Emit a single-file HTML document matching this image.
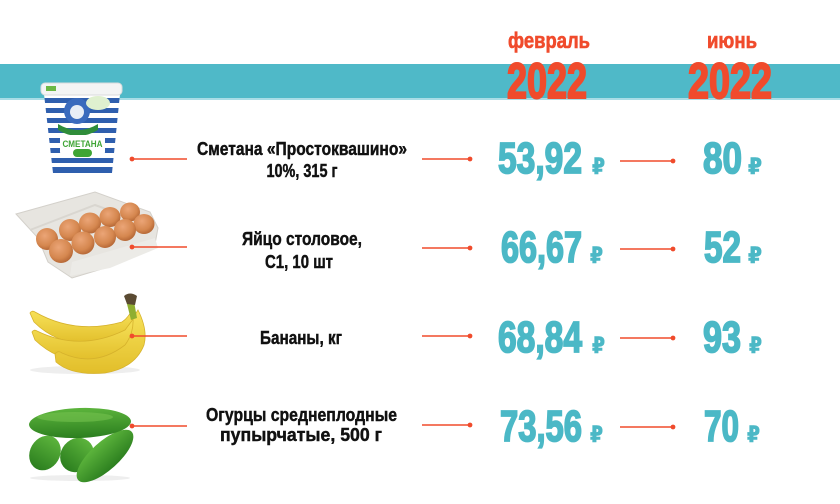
<!DOCTYPE html>
<html>
<head>
<meta charset="utf-8">
<style>
  html,body{margin:0;padding:0;background:#fff;}
  svg{display:block;}
  .cond{font-family:"Liberation Sans Narrow","Liberation Sans","DejaVu Sans",sans-serif;font-weight:bold;}
</style>
</head>
<body>
<svg width="840" height="504" viewBox="0 0 840 504" xmlns="http://www.w3.org/2000/svg">
  <defs>
    <clipPath id="cupClip">
      <path d="M44,94 L120,94 L112,173 L53,173 Z"/>
    </clipPath>
    <radialGradient id="egg" cx="40%" cy="35%" r="65%">
      <stop offset="0" stop-color="#eba577"/>
      <stop offset="0.7" stop-color="#d5874f"/>
      <stop offset="1" stop-color="#b86a38"/>
    </radialGradient>
    <linearGradient id="ban" x1="0" y1="0" x2="0" y2="1">
      <stop offset="0" stop-color="#f7e25a"/>
      <stop offset="1" stop-color="#e2be2a"/>
    </linearGradient>
    <linearGradient id="cuc" x1="0" y1="0" x2="0" y2="1">
      <stop offset="0" stop-color="#5cb43c"/>
      <stop offset="1" stop-color="#2c7f1f"/>
    </linearGradient>
  </defs>

  <rect width="840" height="504" fill="#ffffff"/>

  <!-- Band -->
  <rect x="0" y="64" width="840" height="34" fill="#4fb9c8"/>
  <rect x="0" y="98" width="840" height="2" fill="#a9dde6"/>

  <!-- Header -->
  <g class="cond" fill="#f04b2c" stroke="#f04b2c" text-anchor="middle">
    <text x="549" y="48" font-size="22" stroke-width="0.6" textLength="82" lengthAdjust="spacingAndGlyphs">февраль</text>
    <text x="547" y="98" font-size="50" stroke-width="2" textLength="80" lengthAdjust="spacingAndGlyphs">2022</text>
    <text x="732" y="48" font-size="22" stroke-width="0.6" textLength="50" lengthAdjust="spacingAndGlyphs">июнь</text>
    <text x="730" y="98" font-size="50" stroke-width="2" textLength="84" lengthAdjust="spacingAndGlyphs">2022</text>
  </g>

  <!-- Sour cream cup -->
  <g>
    <g clip-path="url(#cupClip)">
      <rect x="40" y="94" width="85" height="80" fill="#ffffff"/>
      <rect x="40" y="98" width="85" height="5" fill="#2f5fae"/>
      <rect x="40" y="108" width="85" height="5" fill="#2f5fae"/>
      <rect x="40" y="118" width="85" height="5" fill="#2f5fae"/>
      <rect x="40" y="128" width="85" height="5" fill="#2f5fae"/>
      <rect x="40" y="138" width="85" height="5" fill="#2f5fae"/>
      <rect x="40" y="148" width="85" height="5" fill="#2f5fae"/>
      <rect x="40" y="158" width="85" height="5" fill="#2f5fae"/>
      <rect x="40" y="167" width="85" height="6" fill="#2f5fae"/>
    </g>
    <rect x="41" y="83" width="81" height="12" rx="4" fill="#f3f4f4" stroke="#d8dadb" stroke-width="1"/>
    <rect x="46" y="86" width="10" height="5" fill="#6cb845"/>
    <circle cx="77" cy="111" r="13" fill="#3a6bbd"/>
    <circle cx="77" cy="112" r="7" fill="#e8eef6"/>
    <ellipse cx="98" cy="103" rx="12" ry="7" fill="#dff0cf"/>
    <path d="M58,124 Q78,136 98,124 L98,130 Q78,142 58,130 Z" fill="#2f8d3a"/>
    <rect x="60" y="135" width="45" height="20" rx="3" fill="#ffffff"/>
    <text x="82.5" y="147" font-family="Liberation Sans, sans-serif" font-weight="bold" font-size="9" fill="#3fa535" text-anchor="middle" textLength="40" lengthAdjust="spacingAndGlyphs">СМЕТАНА</text>
    <rect x="73" y="149" width="19" height="8" rx="4" fill="#3fa535"/>
  </g>

  <!-- Eggs tray -->
  <g>
    <path d="M16,214 L95,192 L150,212 L158,228 L155,244 L105,268 L72,278 L48,262 L38,238 Z" fill="#e7e5e0" stroke="#d3d0ca" stroke-width="1"/>
    <path d="M30,230 L95,205 L150,225" fill="none" stroke="#d9d6d0" stroke-width="2"/>
    <ellipse cx="47" cy="239" rx="11" ry="11" fill="url(#egg)"/>
    <ellipse cx="70" cy="230" rx="11" ry="11" fill="url(#egg)"/>
    <ellipse cx="90" cy="223" rx="11" ry="10.5" fill="url(#egg)"/>
    <ellipse cx="110" cy="217" rx="10.5" ry="10" fill="url(#egg)"/>
    <ellipse cx="130" cy="212" rx="10" ry="9.5" fill="url(#egg)"/>
    <ellipse cx="144" cy="224" rx="10.5" ry="10" fill="url(#egg)"/>
    <ellipse cx="125" cy="230" rx="11" ry="11" fill="url(#egg)"/>
    <ellipse cx="105" cy="237" rx="11" ry="11" fill="url(#egg)"/>
    <ellipse cx="83" cy="243" rx="11.5" ry="11.5" fill="url(#egg)"/>
    <ellipse cx="61" cy="251" rx="12" ry="12" fill="url(#egg)"/>
    <path d="M70,276 L72,262 L155,238 L158,248 L110,268 Z" fill="#ecebe7"/>
  </g>

  <!-- Bananas -->
  <g>
    <ellipse cx="85" cy="370" rx="55" ry="4" fill="#eeeeee"/>
    <path d="M30,313 Q32,310 35,312 Q75,335 122,322 Q128,318 132,310 L136,318 Q128,338 100,343 Q60,348 34,322 Z" fill="url(#ban)" stroke="#d6b22c" stroke-width="0.8"/>
    <path d="M32,332 Q34,329 37,331 Q80,352 125,330 L134,318 L138,325 Q132,350 100,360 Q62,366 35,340 Z" fill="url(#ban)" stroke="#d6b22c" stroke-width="0.8"/>
    <path d="M55,354 Q58,350 62,353 Q95,368 125,345 Q134,333 133,318 L138,310 Q148,330 144,345 Q135,368 105,373 Q72,376 56,362 Z" fill="url(#ban)" stroke="#d6b22c" stroke-width="0.8"/>
    <path d="M126,300 L133,296 L137,318 L131,320 Z" fill="#8fae30"/>
    <path d="M124,296 Q130,291 137,296 L135,305 L127,304 Z" fill="#5a4a32"/>
  </g>

  <!-- Cucumbers -->
  <g>
    <ellipse cx="80" cy="478" rx="50" ry="3" fill="#eeeeee"/>
    <ellipse cx="45" cy="453" rx="15" ry="18" transform="rotate(30 45 453)" fill="url(#cuc)"/>
    <ellipse cx="77" cy="455" rx="16" ry="18" transform="rotate(40 77 455)" fill="url(#cuc)"/>
    <ellipse cx="105" cy="456" rx="36" ry="14" transform="rotate(-42 105 456)" fill="url(#cuc)"/>
    <ellipse cx="80" cy="423" rx="51" ry="15" transform="rotate(-2 80 423)" fill="url(#cuc)"/>
    <ellipse cx="75" cy="417" rx="38" ry="5" fill="#74c24f" opacity="0.6"/>
  </g>

  <!-- Connector lines -->
  <g stroke="#f04b2c" stroke-width="1.4" fill="none">
    <line x1="132" y1="159" x2="187" y2="159"/>
    <line x1="422" y1="159" x2="470" y2="159"/>
    <line x1="620" y1="161" x2="673" y2="161"/>
    <line x1="132" y1="247" x2="187" y2="247"/>
    <line x1="422" y1="248" x2="470" y2="248"/>
    <line x1="620" y1="249" x2="673" y2="249"/>
    <line x1="132" y1="336" x2="187" y2="336"/>
    <line x1="422" y1="336" x2="470" y2="336"/>
    <line x1="620" y1="338" x2="673" y2="338"/>
    <line x1="132" y1="426" x2="187" y2="426"/>
    <line x1="422" y1="425" x2="470" y2="425"/>
    <line x1="620" y1="427" x2="673" y2="427"/>
  </g>
  <g fill="#f04b2c">
    <circle cx="132" cy="159" r="2.4"/>
    <circle cx="470" cy="159" r="2.4"/>
    <circle cx="673" cy="161" r="2.4"/>
    <circle cx="132" cy="247" r="2.4"/>
    <circle cx="470" cy="248" r="2.4"/>
    <circle cx="673" cy="249" r="2.4"/>
    <circle cx="132" cy="336" r="2.4"/>
    <circle cx="470" cy="336" r="2.4"/>
    <circle cx="673" cy="338" r="2.4"/>
    <circle cx="132" cy="426" r="2.4"/>
    <circle cx="470" cy="425" r="2.4"/>
    <circle cx="673" cy="427" r="2.4"/>
  </g>

  <!-- Labels -->
  <g class="cond" fill="#111111" stroke="#111111" stroke-width="0.45" font-size="18.5" text-anchor="middle">
    <text x="302" y="155" textLength="210" lengthAdjust="spacingAndGlyphs">Сметана «Простоквашино»</text>
    <text x="302" y="177" textLength="71" lengthAdjust="spacingAndGlyphs">10%, 315 г</text>
    <text x="302" y="245" textLength="120" lengthAdjust="spacingAndGlyphs">Яйцо столовое,</text>
    <text x="299" y="268" textLength="68" lengthAdjust="spacingAndGlyphs">С1, 10 шт</text>
    <text x="301" y="344" textLength="82" lengthAdjust="spacingAndGlyphs">Бананы, кг</text>
    <text x="301.5" y="421" textLength="191" lengthAdjust="spacingAndGlyphs">Огурцы среднеплодные</text>
    <text x="301" y="441" textLength="162" lengthAdjust="spacingAndGlyphs">пупырчатые, 500 г</text>
  </g>

  <!-- Prices -->
  <g class="cond" fill="#4bb8c6" stroke="#4bb8c6" stroke-width="1.8" font-size="44">
    <text x="498" y="173" textLength="84" lengthAdjust="spacingAndGlyphs">53,92</text>
    <text x="703" y="173" textLength="39" lengthAdjust="spacingAndGlyphs">80</text>
    <text x="501" y="262" textLength="81" lengthAdjust="spacingAndGlyphs">66,67</text>
    <text x="704" y="262" textLength="37" lengthAdjust="spacingAndGlyphs">52</text>
    <text x="498" y="352" textLength="84" lengthAdjust="spacingAndGlyphs">68,84</text>
    <text x="703" y="352" textLength="38" lengthAdjust="spacingAndGlyphs">93</text>
    <text x="500" y="441" textLength="82" lengthAdjust="spacingAndGlyphs">73,56</text>
    <text x="704" y="441" textLength="35" lengthAdjust="spacingAndGlyphs">70</text>
  </g>
  <g fill="#4bb8c6" stroke="#4bb8c6" stroke-width="0.6" font-family="'DejaVu Sans','Liberation Sans',sans-serif" font-weight="bold" font-size="22">
    <text x="592" y="174" textLength="13" lengthAdjust="spacingAndGlyphs">₽</text>
    <text x="748" y="174" textLength="14" lengthAdjust="spacingAndGlyphs">₽</text>
    <text x="590" y="263" textLength="13" lengthAdjust="spacingAndGlyphs">₽</text>
    <text x="748" y="263" textLength="14" lengthAdjust="spacingAndGlyphs">₽</text>
    <text x="592" y="353" textLength="13" lengthAdjust="spacingAndGlyphs">₽</text>
    <text x="749" y="353" textLength="13" lengthAdjust="spacingAndGlyphs">₽</text>
    <text x="590" y="442" textLength="13" lengthAdjust="spacingAndGlyphs">₽</text>
    <text x="747" y="442" textLength="13" lengthAdjust="spacingAndGlyphs">₽</text>
  </g>
</svg>
</body>
</html>
